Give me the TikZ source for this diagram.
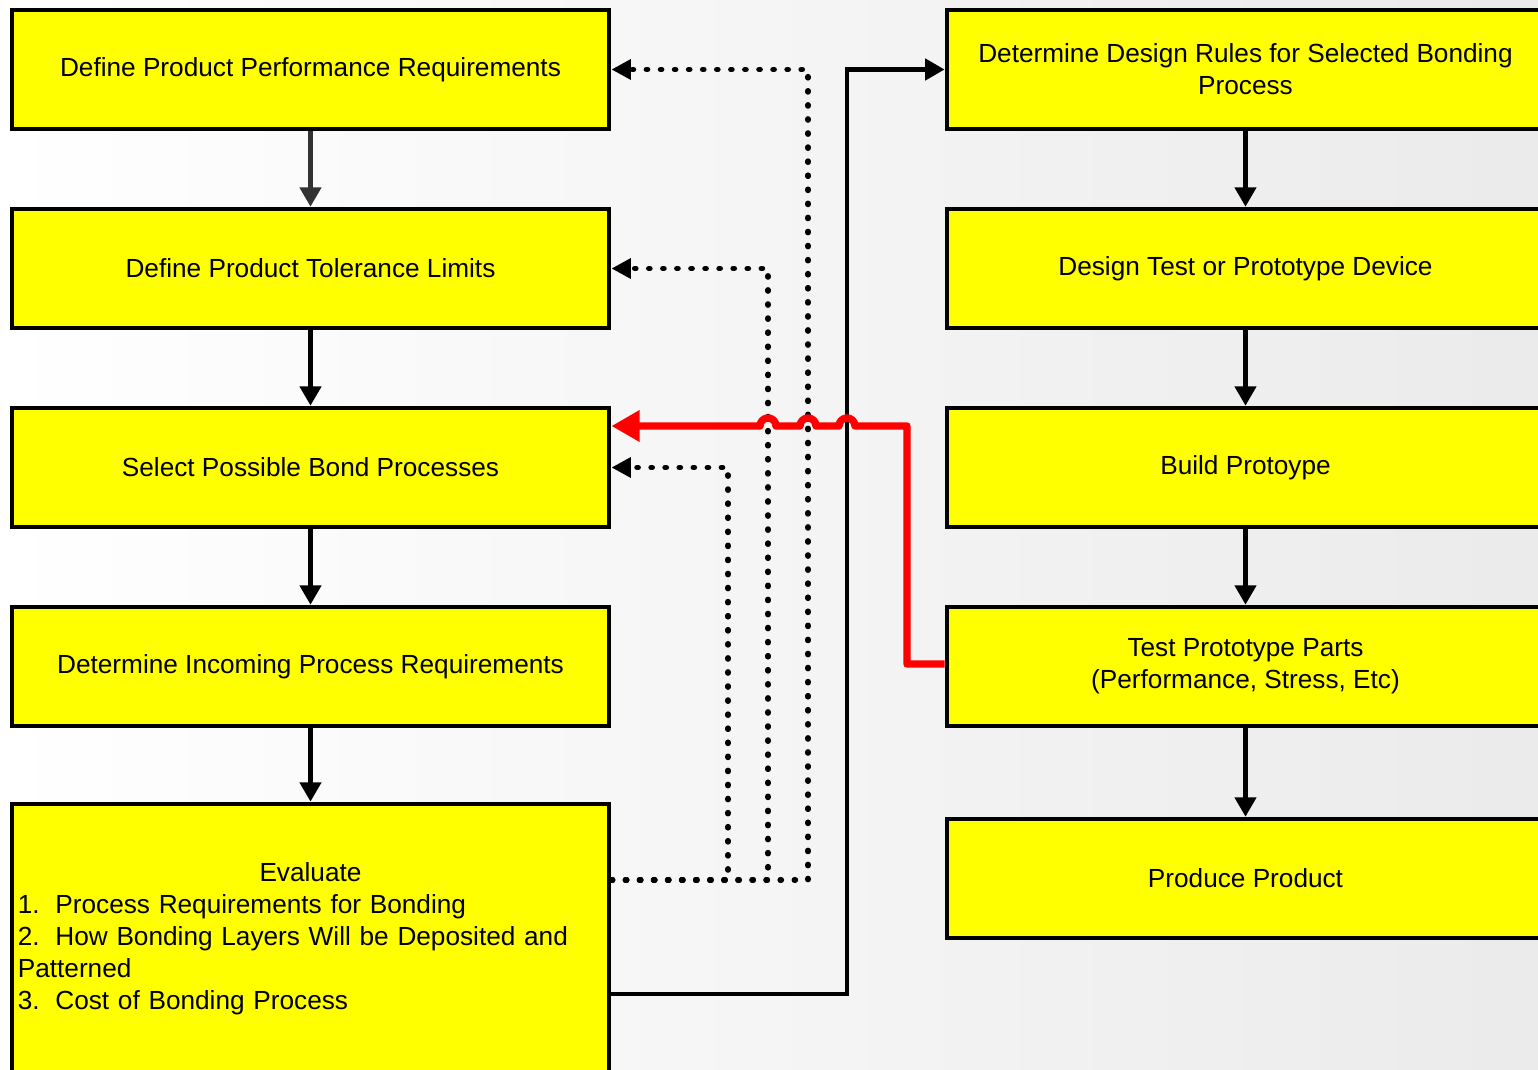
\documentclass[tikz,border=0pt]{standalone}
\usepackage{fontspec}
\setmainfont{Liberation Sans}
\usetikzlibrary{arrows.meta}
\definecolor{boxyellow}{RGB}{255,255,0}
\definecolor{linered}{RGB}{255,0,0}
\begin{document}
\begin{tikzpicture}[x=0.01cm,y=-0.01cm,
  box/.style={draw=black,line width=1.3pt,fill=boxyellow,minimum width=5.97cm,minimum height=1.19cm,
    inner sep=0pt,align=center,font=\fontsize{7.45}{9.1}\selectfont},
  arr/.style={line width=1.2pt,-{Triangle[length=5.5pt,width=6pt]}},
  dotline/.style={line width=1.6pt,line cap=round,dash pattern=on 0.3pt off 3.7pt,-{Triangle[length=5.5pt,width=5.5pt]}},
  redline/.style={draw=linered,line width=2.1pt,line join=round,-{Triangle[length=8pt,width=8.5pt]}}]
\useasboundingbox (0,0) rectangle (1538,1070);
\clip (0,0) rectangle (1538,1070);
\shade[left color=white,right color=black!8] (0,0) rectangle (1538,1070);

% left column
\node[box] (L1) at (310.5,69.5) {Define Product Performance Requirements};
\node[box] (L2) at (310.5,268.5) {Define Product Tolerance Limits};
\node[box] (L3) at (310.5,467.5) {Select Possible Bond Processes};
\node[box] (L4) at (310.5,666.5) {Determine Incoming Process Requirements};
\node[box,minimum height=2.70cm,text width=5.85cm,align=left] (EV) at (310.5,939)
  {\makebox[\linewidth]{Evaluate}\\
   1.\hspace{0.6em}Process Requirements for Bonding\\
   2.\hspace{0.6em}How Bonding Layers Will be Deposited and\\
   Patterned\\
   3.\hspace{0.6em}Cost of Bonding Process};

% right column
\node[box] (R1) at (1245.5,69.5) {Determine Design Rules for Selected Bonding\\Process};
\node[box] (R2) at (1245.5,268.5) {Design Test or Prototype Device};
\node[box] (R3) at (1245.5,467.5) {Build Protoype};
\node[box] (R4) at (1245.5,666.5) {Test Prototype Parts\\(Performance, Stress, Etc)};
\node[box] (R5) at (1245.5,878.5) {Produce Product};

% vertical arrows
\draw[arr,draw=black!80] (L1) -- (L2);
\draw[arr] (L2) -- (L3);
\draw[arr] (L3) -- (L4);
\draw[arr] (L4) -- (EV);
\draw[arr] (R1) -- (R2);
\draw[arr] (R2) -- (R3);
\draw[arr] (R3) -- (R4);
\draw[arr] (R4) -- (R5);

% dotted feedback lines
\coordinate (d1) at (808,880);
\coordinate (d2) at (768,880);
\coordinate (d3) at (728,880);
\draw[dotline] (EV.east |- d1) -- (d1) |- (L1.east);
\draw[dotline] (EV.east |- d2) -- (d2) |- (L2.east);
\draw[dotline] (EV.east |- d3) -- (d3) |- (L3.east);

% solid line to R1
\coordinate (s1) at (847,994);
\draw[arr] (EV.east |- s1) -- (s1) |- (R1.west);

% red line with hops
\coordinate (r1) at (907,664);
\coordinate (r2) at (907,426);
\draw[redline] (R4.west |- r1) -- (r1) -- (r2) -- (855,426)
  arc[start angle=0,end angle=180,radius=0.08cm] -- (816,426)
  arc[start angle=0,end angle=180,radius=0.08cm] -- (776,426)
  arc[start angle=0,end angle=180,radius=0.08cm] -- (L3.east |- r2);
\end{tikzpicture}
\end{document}
